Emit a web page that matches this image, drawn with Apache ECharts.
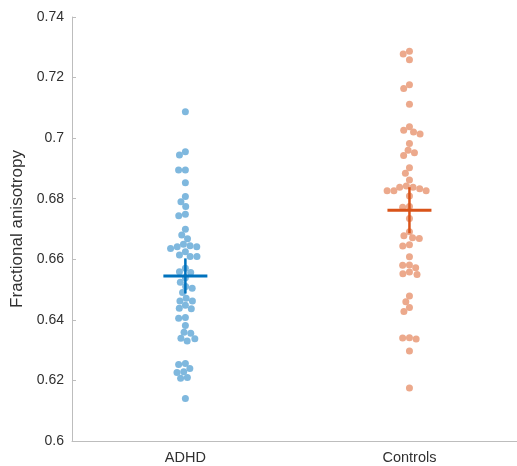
<!DOCTYPE html>
<html><head><meta charset="utf-8">
<script src="https://cdn.jsdelivr.net/npm/echarts@6/dist/echarts.min.js"></script>
<style>html,body{margin:0;padding:0;background:#fff}#c{width:517px;height:466px}</style>
</head><body><div id="c"></div>
<script>
const categories = ['ADHD', 'Controls'];
const adhdValues = [0.7087, 0.6955, 0.6944, 0.6895, 0.6895, 0.6853, 0.6807, 0.6790, 0.6774, 0.6744, 0.6749, 0.6699, 0.6680, 0.6668, 0.6641, 0.6641, 0.6636, 0.6645, 0.6650, 0.6614, 0.6609, 0.6609, 0.6625, 0.6570, 0.6556, 0.6559, 0.6539, 0.6524, 0.6510, 0.6504, 0.6490, 0.6471, 0.6462, 0.6462, 0.6448, 0.6437, 0.6438, 0.6405, 0.6408, 0.6381, 0.6359, 0.6356, 0.6338, 0.6330, 0.6339, 0.6253, 0.6256, 0.6239, 0.6229, 0.6226, 0.6207, 0.6210, 0.6140];
const controlValues = [0.7278, 0.7287, 0.7259, 0.7176, 0.7164, 0.7112, 0.7038, 0.7020, 0.7014, 0.7026, 0.6982, 0.6952, 0.6943, 0.6960, 0.6902, 0.6884, 0.6862, 0.6838, 0.6833, 0.6826, 0.6826, 0.6826, 0.6838, 0.6842, 0.6809, 0.6774, 0.6772, 0.6735, 0.6678, 0.6669, 0.6671, 0.6691, 0.6648, 0.6644, 0.6608, 0.6580, 0.6572, 0.6581, 0.6552, 0.6550, 0.6558, 0.6479, 0.6460, 0.6441, 0.6428, 0.6340, 0.6337, 0.6341, 0.6297, 0.6175];
const groupMeans = [0.6545, 0.6762];
const groupSEM = [0.0058, 0.0076];
const yTickMin = 0.6, yTickMax = 0.74, yTickStep = 0.02;

const pointColors = ['#7FB8DE', '#ECA98C'];
const meanColors = ['#0072BD', '#D95319'];

const W = 517, H = 466;
const grid = {left: 72, right: 0, top: 17, bottom: 25};
const xMin = 0.494, xMax = 2.48;
const plotW = W - grid.left - grid.right, plotH = H - grid.top - grid.bottom;
const pxPerX = plotW / (xMax - xMin), pxPerY = plotH / (yTickMax - yTickMin);
const D = 6.8;

function swarm(values, center) {
  const placed = [];
  const order = values.map((v, i) => i).sort((a, b) => values[b] - values[a]);
  const out = new Array(values.length);
  order.forEach(i => {
    const y = values[i] * pxPerY;
    const near = placed.filter(p => Math.abs(p.y - y) < D);
    const cands = [0];
    near.forEach(p => { const w = Math.sqrt(D * D - (p.y - y) ** 2); cands.push(p.x + w + 1e-6, p.x - w - 1e-6); });
    cands.sort((a, b) => Math.abs(a) - Math.abs(b) || a - b);
    let x = 0;
    for (const c of cands) {
      if (near.every(p => (p.x - c) ** 2 + (p.y - y) ** 2 >= D * D - 1e-3)) { x = c; break; }
    }
    placed.push({x, y});
    out[i] = [center + x / pxPerX, values[i]];
  });
  return out;
}

const groups = [adhdValues, controlValues];
const chart = echarts.init(document.getElementById('c'), null, {renderer: 'canvas'});
const textColor = '#303030';
const axisColor = '#BDBDBD';
const font = 'Liberation Sans, Arial, sans-serif';

const series = groups.map((vals, g) => ({
  type: 'scatter',
  name: categories[g],
  data: swarm(vals, g + 1),
  symbol: 'circle',
  symbolSize: 7,
  itemStyle: {color: pointColors[g], opacity: 1},
  silent: true,
  z: 2
}));
series.push({
  type: 'custom',
  silent: true,
  z: 10,
  data: groupMeans.map((m, g) => [g + 1, m, groupSEM[g]]),
  renderItem: (params, api) => {
    const cx = api.value(0), m = api.value(1), s = api.value(2);
    const c = api.coord([cx, m]);
    const t = api.coord([cx, m + s]);
    const b = api.coord([cx, m - s]);
    const hw = 22;
    const color = meanColors[params.dataIndex];
    return {type: 'group', children: [
      {type: 'line', shape: {x1: c[0], y1: t[1], x2: c[0], y2: b[1]}, style: {stroke: color, lineWidth: 2.5}},
      {type: 'line', shape: {x1: c[0] - hw, y1: c[1], x2: c[0] + hw, y2: c[1]}, style: {stroke: color, lineWidth: 3}}
    ]};
  }
});

chart.setOption({
  animation: false,
  backgroundColor: '#fff',
  grid: grid,
  xAxis: {
    type: 'value', min: xMin, max: xMax,
    axisLine: {show: true, lineStyle: {color: axisColor, width: 1}},
    axisTick: {show: false},
    splitLine: {show: false},
    axisLabel: {
      customValues: [1, 2],
      formatter: v => categories[Math.round(v) - 1] || '',
      color: textColor, fontFamily: font, fontSize: 14.5, margin: 9
    }
  },
  yAxis: {
    type: 'value', min: yTickMin, max: yTickMax, interval: yTickStep,
    name: 'Fractional anisotropy', nameLocation: 'middle', nameRotate: 90, nameGap: 46,
    nameTextStyle: {color: textColor, fontFamily: font, fontSize: 17},
    axisLine: {show: true, lineStyle: {color: axisColor, width: 1}},
    axisTick: {show: true, inside: true, length: 4, lineStyle: {color: axisColor}},
    splitLine: {show: false},
    axisLabel: {
      formatter: v => String(+v.toFixed(2)),
      color: textColor, fontFamily: font, fontSize: 14, margin: 8
    }
  },
  series: series
});
</script>
</body></html>
